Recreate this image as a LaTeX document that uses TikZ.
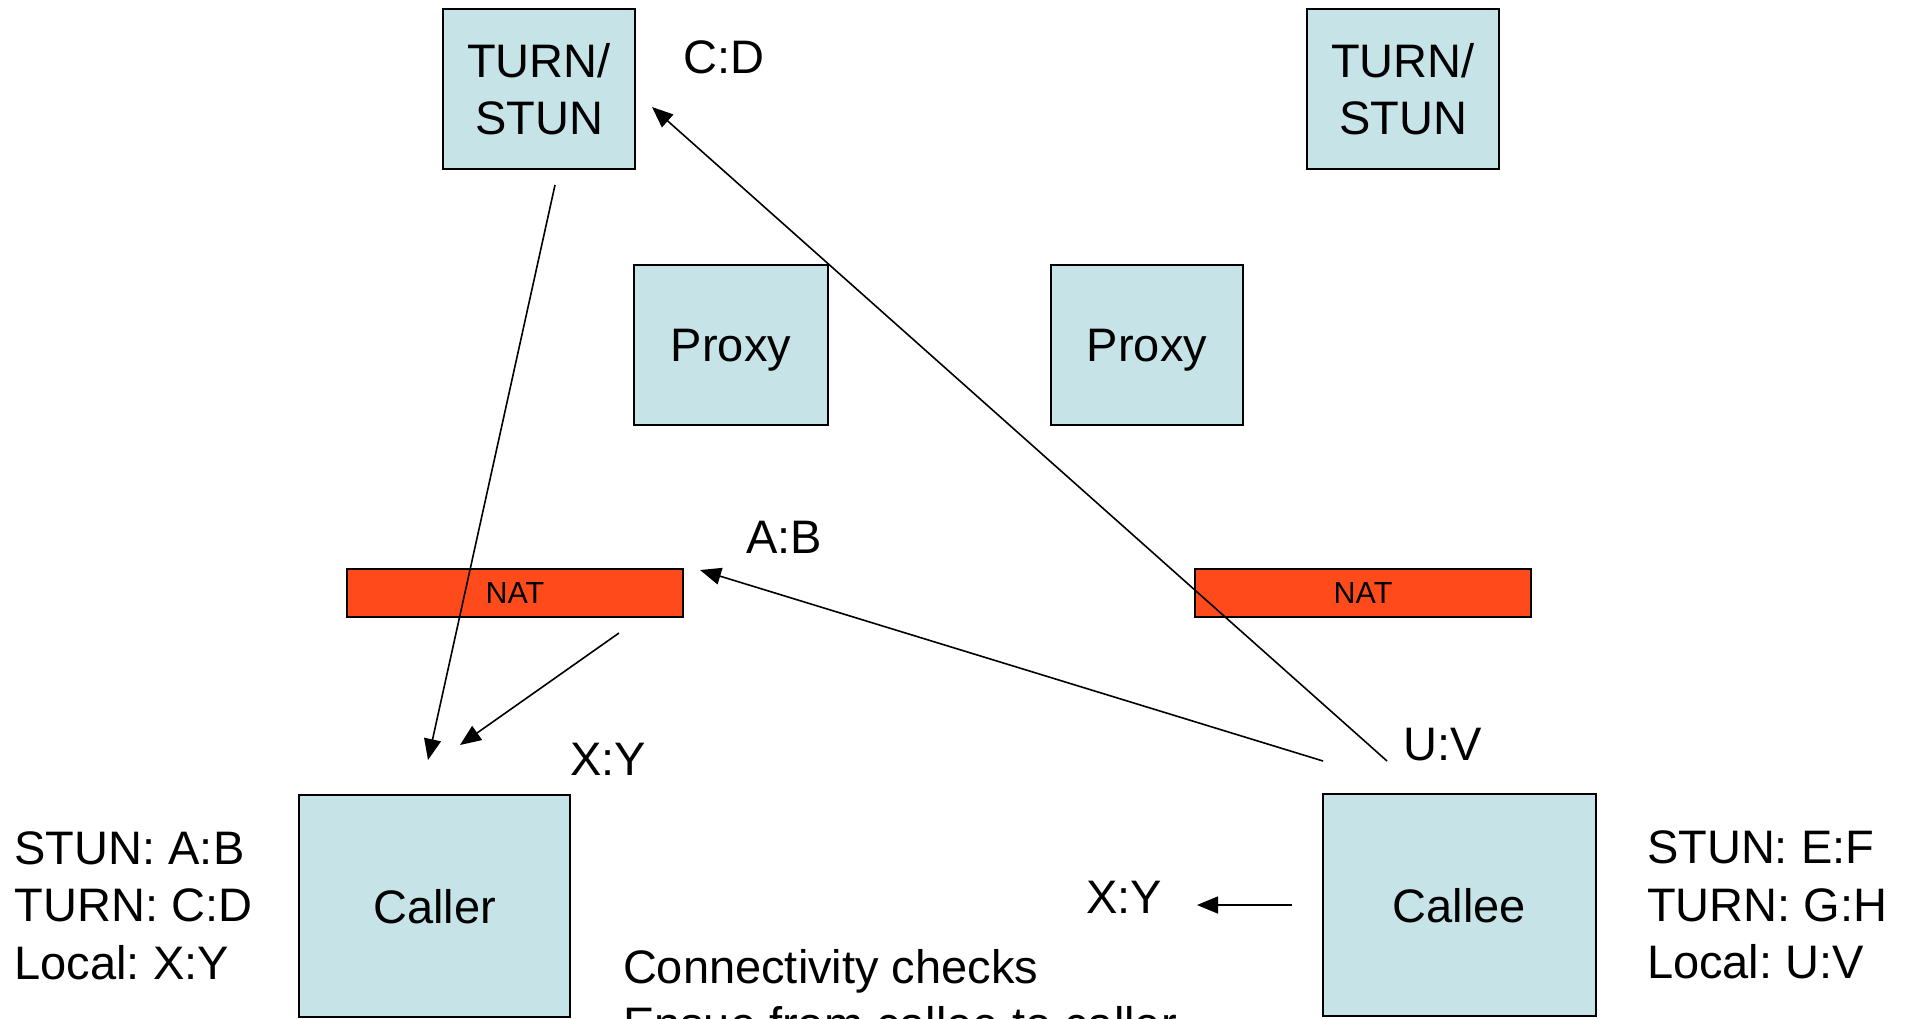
\documentclass[tikz,border=0pt]{standalone}
\usepackage{fontspec}
\setmainfont{Liberation Sans}
\usetikzlibrary{arrows.meta}
\definecolor{boxfill}{RGB}{198,228,232}
\definecolor{natfill}{RGB}{255,74,28}
\frenchspacing
\begin{document}
\begin{tikzpicture}[x=1pt,y=-1pt,
  every node/.style={inner sep=0pt, outer sep=0pt},
  bigtext/.style={font=\fontsize{47}{57.5}\selectfont},
  unit/.style={draw=black, line width=2pt, fill=boxfill,
    minimum width=192pt, minimum height=160pt, align=center,
    bigtext, text depth=0pt},
  natbar/.style={draw=black, line width=1.6pt, fill=natfill,
    minimum width=336pt, minimum height=48pt,
    font=\fontsize{30.5}{36}\selectfont, text depth=0pt},
  addr/.style={bigtext, anchor=base},
  note/.style={bigtext, align=left, anchor=north west},
  flow/.style={line width=1.6pt, -{Triangle[length=21pt,width=17pt]}}
]
\useasboundingbox (0,0) rectangle (1914,1018);
\clip (0,0) rectangle (1914,1018);

% servers, proxies and NATs
\node[unit] (turnA) at (539,89) {TURN/\\STUN};
\node[unit] (turnB) at (1403,89) {TURN/\\STUN};
\node[unit, minimum width=194pt] (proxyA) at (731,345) {Proxy};
\node[unit] (proxyB) at (1147,345) {Proxy};
\node[natbar] (natA) at (515,593) {NAT};
\node[natbar] (natB) at (1363,593) {NAT};

% endpoints
\node[unit, minimum width=271pt, minimum height=222pt] (caller) at (434.5,906) {Caller};
\node[unit, minimum width=273pt, minimum height=222pt] (callee) at (1459.5,905) {Callee};

% transport addresses
\node[addr] (cdlbl) at (724,73) {C:D};
\node[addr] (ablbl) at (784,553) {A:B};
\node[addr] (xylbl) at (608,775) {X:Y};
\node[addr] (uvlbl) at (1443,760) {U:V};
\node[addr] (xyfar) at (1124,913) {X:Y};

% candidate lists and note
\node[note] (callerinfo) at (14.6,831.5) {STUN: A:B\\TURN: C:D\\Local: X:Y};
\node[note] (calleeinfo) at (1647,831) {STUN: E:F\\TURN: G:H\\Local: U:V};
\node[note] (checks) at (623,949) {Connectivity checks\\Ensue from callee to caller};

% free ends of the message arrows
\coordinate (s1) at (555,185);  \coordinate (e1) at (428,760);
\coordinate (s2) at (619,633);  \coordinate (e2) at (460,745);
\coordinate (s3) at (1323,761); \coordinate (e3) at (700,570);
\coordinate (s4) at (1387,761); \coordinate (e4) at (652,107);
\coordinate (s5) at (1292,905); \coordinate (e5) at (1197,905);

\draw[flow] (s1) -- (e1);
\draw[flow] (s2) -- (e2);
\draw[flow] (s3) -- (e3);
\draw[flow] (s4) -- (e4);
\draw[flow] (s5) -- (e5);
\end{tikzpicture}
\end{document}
